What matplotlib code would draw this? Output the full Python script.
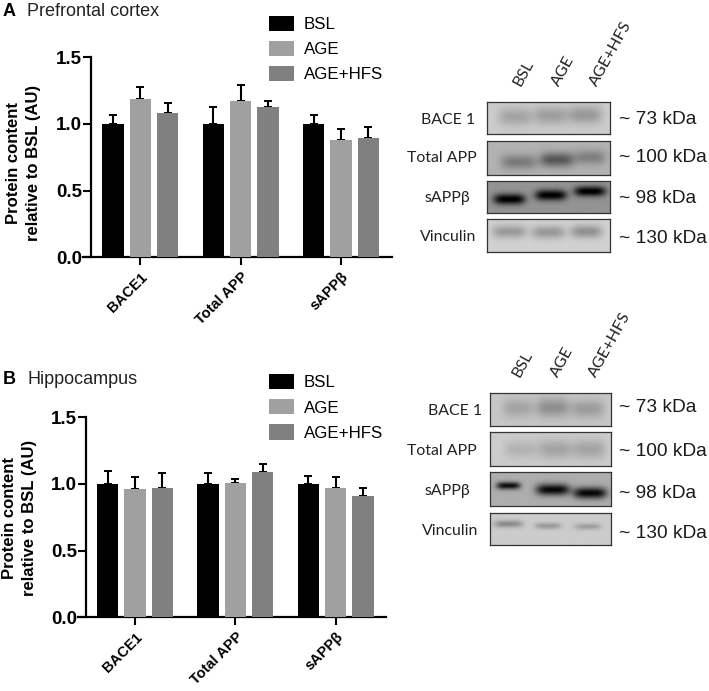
import matplotlib
matplotlib.use("Agg")
import matplotlib.pyplot as plt
from matplotlib.transforms import ScaledTranslation
import numpy as np

W, H = 709, 691

groups = ["BACE1", "Total APP", "sAPPβ"]
conditions = ["BSL", "AGE", "AGE+HFS"]
bar_colors = ["#000000", "#a0a0a0", "#808080"]

# mean per condition, then the top of the error bar
pfc_bsl = [1.00, 1.00, 1.00]
pfc_age = [1.19, 1.17, 0.88]
pfc_hfs = [1.08, 1.13, 0.895]
pfc_bsl_top = [1.07, 1.13, 1.07]
pfc_age_top = [1.28, 1.29, 0.96]
pfc_hfs_top = [1.16, 1.17, 0.98]

hip_bsl = [1.00, 1.00, 1.00]
hip_age = [0.96, 1.01, 0.97]
hip_hfs = [0.97, 1.09, 0.91]
hip_bsl_top = [1.10, 1.08, 1.06]
hip_age_top = [1.05, 1.04, 1.05]
hip_hfs_top = [1.08, 1.15, 0.97]

blot_names = ["BACE 1", "Total APP", "sAPPβ", "Vinculin"]
blot_sizes = ["~ 73 kDa", "~ 100 kDa", "~ 98 kDa", "~ 130 kDa"]

# background grey, then a band per lane: (x centre, y centre, half width, half height, darkness)
pfc_bg = [0.80, 0.70, 0.58, 0.82]
pfc_bands = [
    [(0.23, 0.48, 0.14, 0.28, 0.16), (0.52, 0.44, 0.14, 0.28, 0.18), (0.80, 0.42, 0.14, 0.28, 0.20)],
    [(0.26, 0.62, 0.15, 0.22, 0.22), (0.57, 0.55, 0.14, 0.22, 0.36), (0.84, 0.48, 0.13, 0.22, 0.20)],
    [(0.18, 0.57, 0.13, 0.17, 0.60), (0.52, 0.44, 0.13, 0.17, 0.60), (0.84, 0.32, 0.13, 0.16, 0.60)],
    [(0.18, 0.38, 0.14, 0.20, 0.22), (0.50, 0.40, 0.14, 0.20, 0.22), (0.81, 0.38, 0.13, 0.20, 0.25)],
]
hip_bg = [0.78, 0.80, 0.68, 0.80]
hip_bands = [
    [(0.23, 0.46, 0.13, 0.28, 0.14), (0.52, 0.44, 0.14, 0.30, 0.22), (0.81, 0.48, 0.14, 0.28, 0.17)],
    [(0.26, 0.52, 0.14, 0.26, 0.10), (0.54, 0.52, 0.14, 0.28, 0.16), (0.82, 0.52, 0.14, 0.28, 0.16)],
    [(0.15, 0.40, 0.10, 0.11, 0.63), (0.52, 0.52, 0.14, 0.17, 0.66), (0.83, 0.62, 0.14, 0.17, 0.66)],
    [(0.15, 0.36, 0.12, 0.11, 0.26), (0.48, 0.42, 0.11, 0.10, 0.20), (0.81, 0.44, 0.11, 0.10, 0.18)],
]

fig = plt.figure(figsize=(W / 100, H / 100), dpi=100, facecolor="white")
sans = "Liberation Sans"
blot_font = "Lato"


def px_axes(x0, y0, x1, y1):
    # rectangle given in picture pixels, y measured from the top
    return fig.add_axes([x0 / W, 1 - y1 / H, (x1 - x0) / W, (y1 - y0) / H])


def bar_panel(x0, x1, y_top, y_zero, tick0, means, tops, legend_top, label_x, label_y):
    step = 100.4
    ax = px_axes(x0, y_top, x1, y_zero)
    pos = np.arange(3)
    handles = []
    for i in range(3):
        xs = pos + (i - 1) * 0.272
        err = np.array(tops[i]) - np.array(means[i])
        ax.errorbar(xs, means[i], yerr=[np.zeros(3), err], fmt="none", ecolor="black",
                    elinewidth=1.5, capsize=2.9, capthick=1.4, zorder=2)
        b = ax.bar(xs, means[i], width=0.212, color=bar_colors[i], zorder=3, label=conditions[i])
        handles.append(b)
    ax.set_xlim((x0 - tick0) / step, (x1 - tick0) / step)
    ax.set_ylim(0, 1.5)
    ax.set_yticks([0, 0.5, 1.0, 1.5])
    ax.set_yticklabels(["0.0", "0.5", "1.0", "1.5"], fontsize=13.5, fontweight="bold", family=sans)
    ax.set_xticks(pos)
    ax.set_xticklabels(groups, rotation=45, ha="right", rotation_mode="anchor",
                       fontsize=10.5, fontweight="bold", family=sans)
    shift = ScaledTranslation(-8 / 100, -6 / 100, fig.dpi_scale_trans)
    for lab in ax.get_xticklabels():
        lab.set_transform(lab.get_transform() + shift)
    ax.tick_params(axis="y", length=5.5, width=1.5, pad=1)
    ax.tick_params(axis="x", length=6, width=1.5, pad=3)
    ax.spines["top"].set_visible(False)
    ax.spines["right"].set_visible(False)
    ax.spines["left"].set_linewidth(1.6)
    ax.spines["bottom"].set_linewidth(1.6)
    # x axis runs on past the y axis, to the first tick
    ax.spines["bottom"].set_bounds((x0 - 8 - tick0) / step, (x1 - tick0) / step)
    ax.spines["bottom"].set_clip_on(False)
    ax.set_ylabel("Protein content\nrelative to BSL (AU)", fontsize=12, fontweight="bold",
                  family=sans, linespacing=1.45, va="center", ha="center")
    ax.yaxis.set_label_coords((label_x - x0) / (x1 - x0), (y_zero - label_y) / (y_zero - y_top))
    fig.legend(handles=handles, loc="upper left", bbox_to_anchor=(269 / W, 1 - legend_top / H),
               frameon=False, prop={"family": sans, "size": 12.2}, handlelength=1.475, handleheight=1.0,
               labelspacing=0.52, handletextpad=0.59, borderpad=0, borderaxespad=0)
    return ax


def blot(x0, y0, x1, y1, bg, bands):
    ax = px_axes(x0, y0, x1, y1)
    yy, xx = np.mgrid[0:1:60j, 0:1:120j]
    img = np.full(xx.shape, float(bg))
    for cx, cy, wx, wy, dark in bands:
        img -= dark * np.exp(-((xx - cx) / wx) ** 4 - ((yy - cy) / wy) ** 2)
    ax.imshow(np.clip(img, 0, 1), cmap="gray", vmin=0, vmax=1, aspect="auto",
              extent=[0, 1, 1, 0], interpolation="bilinear")
    ax.set_xticks([])
    ax.set_yticks([])
    for s in ax.spines.values():
        s.set_linewidth(0.9)
        s.set_color("#333333")


def blot_panel(x0, x1, rows, bg, bands, name_x, name_ys, size_ys, lane_xs, lane_y):
    for i, (y0, y1) in enumerate(rows):
        blot(x0, y0, x1, y1, bg[i], bands[i])
        fig.text(name_x[i] / W, 1 - name_ys[i] / H, blot_names[i], ha="center", va="center",
                 fontsize=11.4, family=blot_font, color="#222222")
        fig.text(619 / W, 1 - size_ys[i] / H, blot_sizes[i], ha="left", va="center",
                 fontsize=13.8, family=sans, color="#1a1a1a")
    for lx, name in zip(lane_xs, conditions):
        fig.text(lx / W, 1 - lane_y / H, name, rotation=61, ha="left", va="bottom",
                 rotation_mode="anchor", fontsize=11.6, family=blot_font, color="#222222")


pfc_means = [pfc_bsl, pfc_age, pfc_hfs]
pfc_tops = [pfc_bsl_top, pfc_age_top, pfc_hfs_top]
hip_means = [hip_bsl, hip_age, hip_hfs]
hip_tops = [hip_bsl_top, hip_age_top, hip_hfs_top]

bar_panel(91.3, 392, 57.3, 257.3, 140.3, pfc_means, pfc_tops, 15.7, 23.5, 163)
bar_panel(86.3, 386, 417.3, 617.3, 135, hip_means, hip_tops, 374, 19.5, 518)

fig.text(3 / W, 1 - 11 / H, "A", fontsize=13, fontweight="bold", family=sans, va="center")
fig.text(27 / W, 1 - 11 / H, "Prefrontal cortex", fontsize=13, family=sans, va="center", color="#222222")
fig.text(3 / W, 1 - 379 / H, "B", fontsize=13, fontweight="bold", family=sans, va="center")
fig.text(27 / W, 1 - 379 / H, "Hippocampus", fontsize=13, family=sans, va="center", color="#222222")

blot_panel(487, 610, [(101.7, 134.3), (141, 175), (181, 212.7), (219, 251.7)],
           pfc_bg, pfc_bands, [448, 442, 447, 448], [120, 158, 198, 237], [119, 158, 199, 239],
           [523, 562, 600], 88)
blot_panel(490.3, 611, [(393.3, 425.7), (431.7, 465.7), (472, 505.7), (512.7, 545.3)],
           hip_bg, hip_bands, [455, 442, 447, 450], [411, 451, 491, 531], [408, 451, 494, 533],
           [522, 561, 599], 379)

fig.savefig("out.png", dpi=100)
